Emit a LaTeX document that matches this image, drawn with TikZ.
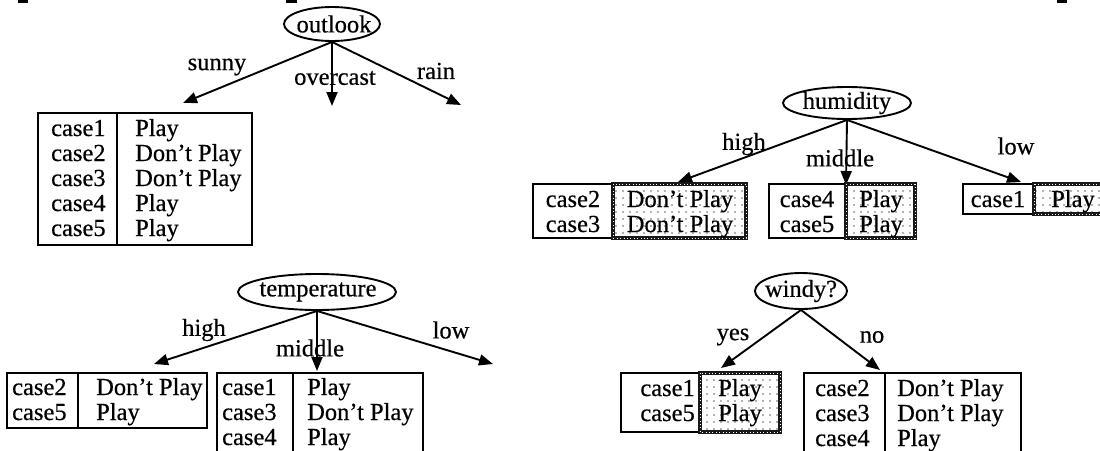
\documentclass[tikz,border=0pt]{standalone}
\usepackage{fontspec}
\setmainfont{Liberation Serif}[FakeBold=0.5]
\usetikzlibrary{shapes.geometric,arrows.meta,patterns.meta}

\tikzset{
  txt/.style={inner sep=0pt, font=\fontsize{24.5}{25}\selectfont},
  cell/.style={txt, anchor=base west},
  rcell/.style={txt, anchor=base east},
  ccell/.style={txt, anchor=base},
  lbl/.style={txt, anchor=center},
  attr/.style={ellipse, draw, line width=1.9pt, inner sep=0pt},
  branch/.style={line width=1.9pt, -{Triangle[length=14pt,width=11pt]}},
  frame/.style={line width=1.9pt},
  dotfill/.style={pattern={Dots[distance=7pt,radius=0.8pt]}, pattern color=black!60},
  rim/.style={line width=4.8pt, draw=black!90},
  rimtex/.style={line width=0.8pt, draw=white, dash pattern=on 0.8pt off 2.6pt},
}

\begin{document}
\begin{tikzpicture}[x=1pt,y=-1pt]
\useasboundingbox (0,0) rectangle (1100,450);

% small marks along the top edge
\fill (18,0) rectangle (28,2.5);
\fill (286,0) rectangle (297,2.5);
\fill (1057,0) rectangle (1067,2.5);

% ---------------- outlook ----------------
\node[attr, minimum width=96pt, minimum height=34pt] (outlookE) at (332,24) {};
\node[lbl] (outlook) at (334,24) {outlook};
\coordinate (sunnyT) at (183,103);
\coordinate (overT) at (332,106);
\coordinate (rainT) at (461,105);
\draw[branch] (outlookE.south) -- (sunnyT);
\draw[branch] (outlookE.south) -- (overT);
\draw[branch] (outlookE.south) -- (rainT);
\node[lbl] (lsunny) at (217,67) {sunny};
\node[lbl] (lover) at (335,78) {overcast};
\node[lbl] (lrain) at (436,71) {rain};

\draw[frame] (38,113) rectangle (252,245);
\draw[frame] (117,113) -- (117,245);
\node[cell] (a1) at (51,136) {case1};   \node[cell] (b1) at (135,136) {Play};
\node[cell] (a2) at (51,161) {case2};   \node[cell] (b2) at (135,161) {Don't Play};
\node[cell] (a3) at (51,186) {case3};   \node[cell] (b3) at (135,186) {Don't Play};
\node[cell] (a4) at (51,211) {case4};   \node[cell] (b4) at (135,211) {Play};
\node[cell] (a5) at (51,236) {case5};   \node[cell] (b5) at (135,236) {Play};

% ---------------- humidity ----------------
\node[attr, minimum width=128pt, minimum height=32pt] (humE) at (847,103) {};
\node[lbl] (hum) at (847,103) {humidity};
\coordinate (hhighT) at (678,182);
\coordinate (hmidT) at (846,185);
\coordinate (hlowT) at (1021,182);
\draw[branch] (humE.south) -- (hhighT);
\draw[branch] (humE.south) -- (hmidT);
\draw[branch] (humE.south) -- (hlowT);
\node[lbl] (lhhigh) at (744,144) {high};
\node[lbl] (lhmid) at (840,158) {middle};
\node[lbl] (lhlow) at (1016,146) {low};

% high branch
\draw[frame] (533,184) rectangle (613,238);
\fill[dotfill] (613,184) rectangle (746,238);
\draw[rim] (613,184) rectangle (746,238);
\draw[rimtex] (613,184) rectangle (746,238);
\node[ccell] (h1) at (573,207) {case2};  \node[ccell] (h2) at (680,207) {Don't Play};
\node[ccell] (h3) at (573,232) {case3};  \node[ccell] (h4) at (680,232) {Don't Play};
% middle branch
\draw[frame] (769,184) rectangle (846,238);
\fill[dotfill] (846,184) rectangle (915,238);
\draw[rim] (846,184) rectangle (915,238);
\draw[rimtex] (846,184) rectangle (915,238);
\node[ccell] (m1) at (807,207) {case4};  \node[ccell] (m2) at (881,207) {Play};
\node[ccell] (m3) at (807,232) {case5};  \node[ccell] (m4) at (881,232) {Play};
% low branch
\draw[frame] (963,184) rectangle (1034,214);
\fill[dotfill] (1034,184) rectangle (1112,214);
\draw[rim] (1034,184) rectangle (1112,214);
\draw[rimtex] (1034,184) rectangle (1112,214);
\node[ccell] (l1) at (998,207) {case1};  \node[cell] (l2) at (1051,207) {Play};

% ---------------- temperature ----------------
\node[attr, minimum width=158pt, minimum height=36pt] (tempE) at (317,292) {};
\node[lbl] (temp) at (318,292) {temperature};
\coordinate (thighT) at (154,364);
\coordinate (tmidT) at (317,371);
\coordinate (tlowT) at (493,364);
\draw[branch] (tempE.south) -- (thighT);
\draw[branch] (tempE.south) -- (tmidT);
\draw[branch] (tempE.south) -- (tlowT);
\node[lbl] (lthigh) at (204,330) {high};
\node[lbl] (ltmid) at (310,348) {middle};
\node[lbl] (ltlow) at (451,330) {low};

\draw[frame] (7,373) rectangle (207,428);
\draw[frame] (78,373) -- (78,428);
\node[cell] (t1) at (12,395) {case2};  \node[cell] (t2) at (96,395) {Don't Play};
\node[cell] (t3) at (12,420) {case5};  \node[cell] (t4) at (96,420) {Play};

\draw[frame] (217,373) rectangle (423,465);
\draw[frame] (293,373) -- (293,465);
\node[cell] (u1) at (222,395) {case1};  \node[cell] (u2) at (307,395) {Play};
\node[cell] (u3) at (222,420) {case3};  \node[cell] (u4) at (307,420) {Don't Play};
\node[cell] (u5) at (222,445) {case4};  \node[cell] (u6) at (307,445) {Play};

% ---------------- windy? ----------------
\node[attr, minimum width=92pt, minimum height=36pt] (windE) at (801,291) {};
\node[lbl] (wind) at (801,291) {windy?};
\coordinate (yesT) at (721,368);
\coordinate (noT) at (880,370);
\draw[branch] (windE.south) -- (yesT);
\draw[branch] (windE.south) -- (noT);
\node[lbl] (lyes) at (733,337) {yes};
\node[lbl] (lno) at (872,337) {no};

\draw[frame] (621,373) rectangle (700,432);
\fill[dotfill] (700,373) rectangle (780,432);
\draw[rim] (700,373) rectangle (780,432);
\draw[rimtex] (700,373) rectangle (780,432);
\node[rcell] (y1) at (695,396) {case1};  \node[ccell] (y2) at (740,396) {Play};
\node[rcell] (y3) at (695,421) {case5};  \node[ccell] (y4) at (740,421) {Play};

\draw[frame] (804,373) rectangle (1021,465);
\draw[frame] (885,373) -- (885,465);
\node[cell] (n1) at (815,396) {case2};  \node[cell] (n2) at (897,396) {Don't Play};
\node[cell] (n3) at (815,421) {case3};  \node[cell] (n4) at (897,421) {Don't Play};
\node[cell] (n5) at (815,446) {case4};  \node[cell] (n6) at (897,446) {Play};
\end{tikzpicture}
\end{document}
